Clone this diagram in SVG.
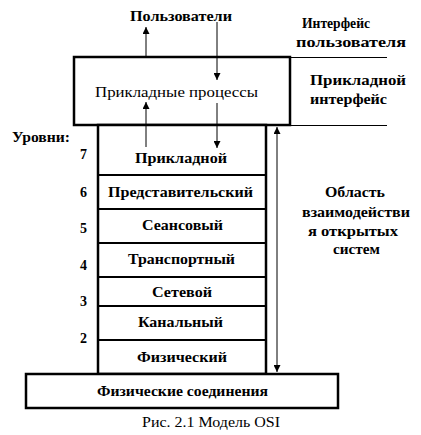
<svg xmlns="http://www.w3.org/2000/svg" width="421" height="435" viewBox="0 0 421 435">
<defs>
<marker id="ah" viewBox="0 0 8 8" refX="8" refY="4" markerWidth="7" markerHeight="7" markerUnits="userSpaceOnUse" orient="auto">
<path d="M0,0 L8,4 L0,8 Z" fill="#000"/>
</marker>
</defs>
<rect width="421" height="435" fill="#fff"/>

<g id="right-lines" stroke="#000" stroke-width="1">
<line x1="290" y1="57.5" x2="387" y2="57.5"/>
<line x1="290" y1="125.5" x2="387" y2="125.5"/>
</g>

<g id="app-processes">
<rect x="74" y="57" width="216" height="68" fill="#fff" stroke="#000" stroke-width="2.5"/>
<text font-family="Liberation Serif" font-size="14" x="95" y="97" textLength="163" lengthAdjust="spacingAndGlyphs">Прикладные процессы</text>
</g>

<g id="stack" stroke="#000">
<rect x="98" y="125" width="168" height="249" fill="#fff" stroke-width="2.5"/>
<g stroke-width="2">
<line x1="98" y1="175" x2="266" y2="175"/>
<line x1="98" y1="209" x2="266" y2="209"/>
<line x1="98" y1="243" x2="266" y2="243"/>
<line x1="98" y1="277" x2="266" y2="277"/>
<line x1="98" y1="306" x2="266" y2="306"/>
<line x1="98" y1="340" x2="266" y2="340"/>
</g>
</g>
<g font-family="Liberation Serif" font-size="14" font-weight="bold">
<g id="layer7"><text x="135" y="163" textLength="92" lengthAdjust="spacingAndGlyphs">Прикладной</text></g>
<g id="layer6"><text x="108" y="197" textLength="145" lengthAdjust="spacingAndGlyphs">Представительский</text></g>
<g id="layer5"><text x="142" y="230" textLength="81" lengthAdjust="spacingAndGlyphs">Сеансовый</text></g>
<g id="layer4"><text x="128" y="264" textLength="107" lengthAdjust="spacingAndGlyphs">Транспортный</text></g>
<g id="layer3"><text x="152" y="297" textLength="60" lengthAdjust="spacingAndGlyphs">Сетевой</text></g>
<g id="layer2"><text x="138" y="327" textLength="85" lengthAdjust="spacingAndGlyphs">Канальный</text></g>
<g id="layer1"><text x="137" y="362" textLength="90" lengthAdjust="spacingAndGlyphs">Физический</text></g>
</g>

<g id="physical-connections">
<rect x="26" y="374" width="312" height="34" fill="#fff" stroke="#000" stroke-width="2.5"/>
<text font-family="Liberation Serif" font-size="14" font-weight="bold" x="97" y="396" textLength="171" lengthAdjust="spacingAndGlyphs">Физические соединения</text>
</g>

<g id="connectors" stroke="#000" stroke-width="1" fill="none">
<line x1="146" y1="57" x2="146" y2="27" marker-end="url(#ah)"/>
<line x1="217" y1="22" x2="217" y2="80" marker-end="url(#ah)"/>
<line x1="146" y1="147" x2="146" y2="102" marker-end="url(#ah)"/>
<line x1="217" y1="103" x2="217" y2="148" marker-end="url(#ah)"/>
<line x1="277" y1="250" x2="277" y2="127" marker-end="url(#ah)"/>
<line x1="277" y1="250" x2="277" y2="372" marker-end="url(#ah)"/>
</g>

<g id="labels" font-family="Liberation Serif" font-size="14" font-weight="bold">
<text x="130" y="21" textLength="102" lengthAdjust="spacingAndGlyphs">Пользователи</text>
<text x="302" y="28" textLength="68" lengthAdjust="spacingAndGlyphs">Интерфейс</text>
<text x="296" y="47" textLength="110" lengthAdjust="spacingAndGlyphs">пользователя</text>
<text x="310" y="85" textLength="96" lengthAdjust="spacingAndGlyphs">Прикладной</text>
<text x="310" y="104" textLength="77" lengthAdjust="spacingAndGlyphs">интерфейс</text>
<text x="12" y="142" textLength="58" lengthAdjust="spacingAndGlyphs">Уровни:</text>
<text x="80" y="159">7</text>
<text x="80" y="197">6</text>
<text x="80" y="233">5</text>
<text x="80" y="270">4</text>
<text x="80" y="306">3</text>
<text x="80" y="343">2</text>
<text x="325" y="197" textLength="60" lengthAdjust="spacingAndGlyphs">Область</text>
<text x="302" y="217" textLength="108" lengthAdjust="spacingAndGlyphs">взаимодействи</text>
<text x="308" y="236" textLength="90" lengthAdjust="spacingAndGlyphs">я открытых</text>
<text x="333" y="254" textLength="47" lengthAdjust="spacingAndGlyphs">систем</text>
<text font-weight="normal" x="142" y="427" textLength="138" lengthAdjust="spacingAndGlyphs">Рис. 2.1 Модель OSI</text>
</g>
</svg>
